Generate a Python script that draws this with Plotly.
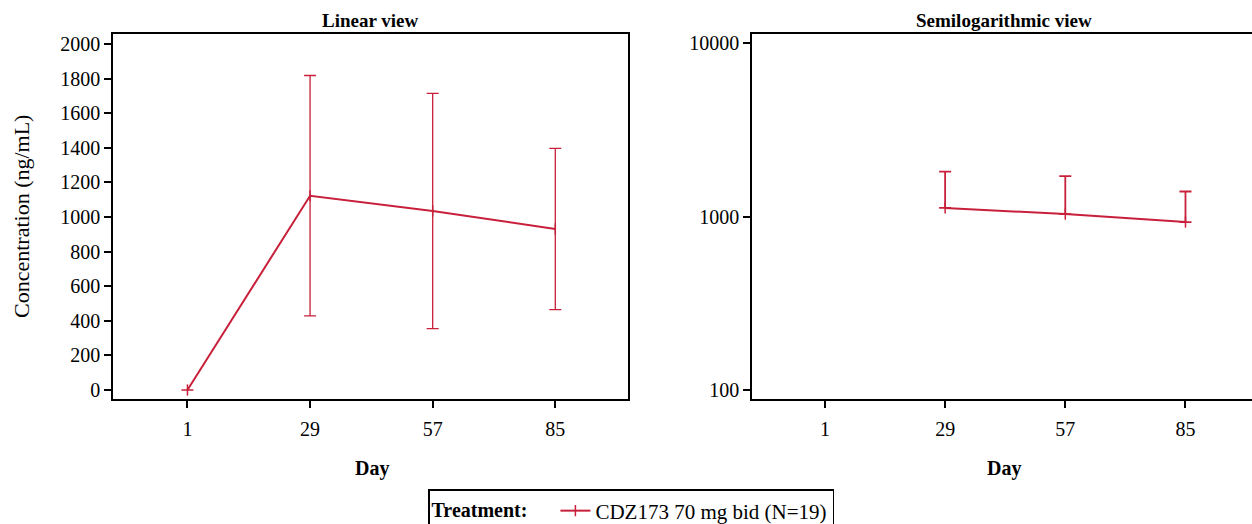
import plotly.graph_objects as go

days = [1, 29, 57, 85]
mean_conc = [0, 1123, 1035, 931]
sd_conc = [0, 695, 680, 466]
tick_days = [1, 29, 57, 85]
lin_ticks = [0, 200, 400, 600, 800, 1000, 1200, 1400, 1600, 1800, 2000]
log_ticks = [100, 1000, 10000]
log_tick_text = ["100", "1000", "10000"]
series_name = "CDZ173 70 mg bid (N=19)"

RED = "#c8203a"
FONT = "Liberation Serif"

fig = go.Figure()

# Linear view
fig.add_trace(go.Scatter(
    x=days, y=mean_conc, mode="lines+markers", name=series_name,
    line=dict(color=RED, width=2),
    marker=dict(symbol="line-ns-open", size=8, color=RED, line=dict(color=RED, width=1.5)),
    error_y=dict(type="data", array=sd_conc, symmetric=True, color=RED, thickness=1.3, width=6),
    xaxis="x", yaxis="y", showlegend=True,
))

# Semilog view (positive values only, upper bars)
pos = [i for i, m in enumerate(mean_conc) if m > 0]
fig.add_trace(go.Scatter(
    x=[days[i] for i in pos], y=[mean_conc[i] for i in pos], mode="lines+markers",
    name=series_name,
    line=dict(color=RED, width=2),
    marker=dict(symbol="line-ns-open", size=8, color=RED, line=dict(color=RED, width=1.5)),
    error_y=dict(type="data", array=[sd_conc[i] for i in pos], arrayminus=[0 for _ in pos],
                 symmetric=False, color=RED, thickness=1.8, width=6),
    xaxis="x2", yaxis="y2", showlegend=False,
))

axis_common = dict(
    showline=True, linecolor="black", linewidth=1.6, ticks="outside", ticklen=7,
    tickwidth=1.5, tickcolor="black", showgrid=False, zeroline=False,
    tickfont=dict(family=FONT, size=20, color="black"),
)

W, H = 1252, 524
PH = 365  # plot height in px (34..399)
fig.update_layout(
    width=W, height=H,
    margin=dict(l=0, r=0, t=34, b=125, autoexpand=False),
    paper_bgcolor="white", plot_bgcolor="white",
    font=dict(family=FONT, color="black"),
    xaxis=dict(domain=[113 / W, 628 / W], range=[-16, 101.6], tickvals=tick_days,
               mirror=True, anchor="y", ticklabelstandoff=4, **axis_common),
    yaxis=dict(range=[-52, 2058], tickvals=lin_ticks, mirror=True, anchor="x", **axis_common),
    xaxis2=dict(domain=[752 / W, 1.0], range=[-16, 100.5], tickvals=tick_days,
                mirror=True, anchor="y2", ticklabelstandoff=4, **axis_common),
    yaxis2=dict(type="log", range=[1.948, 4.054], tickvals=log_ticks, ticktext=log_tick_text,
                mirror=False, anchor="x2", **axis_common),
    legend=dict(
        orientation="h", x=0.504, xanchor="center", y=(H - 489) / H, yref="container",
        yanchor="top",
        bordercolor="black", borderwidth=1.5, bgcolor="white",
        font=dict(family=FONT, size=21, color="black"),
        title=dict(text="<b>Treatment:</b>&nbsp;&nbsp;&nbsp;&nbsp;",
                   font=dict(family=FONT, size=20, color="black")),
        tracegroupgap=0,
    ),
    annotations=[
        dict(text="<b>Linear view</b>", x=370 / W, y=1.0, xref="paper", yref="paper",
             xanchor="center", yanchor="bottom", yshift=1, showarrow=False,
             font=dict(family=FONT, size=19)),
        dict(text="<b>Semilogarithmic view</b>", x=1004 / W, y=1.0, xref="paper", yref="paper",
             xanchor="center", yanchor="bottom", yshift=1, showarrow=False,
             font=dict(family=FONT, size=19)),
        dict(text="Concentration (ng/mL)", x=21 / W, y=(399 - 217) / PH, xref="paper", yref="paper",
             textangle=-90, showarrow=False, xanchor="center", yanchor="middle",
             font=dict(family=FONT, size=22)),
        dict(text="<b>Day</b>", x=372 / W, y=-(468 - 399) / PH, xref="paper", yref="paper",
             xanchor="center", yanchor="middle", showarrow=False, font=dict(family=FONT, size=20)),
        dict(text="<b>Day</b>", x=1004 / W, y=-(468 - 399) / PH, xref="paper", yref="paper",
             xanchor="center", yanchor="middle", showarrow=False, font=dict(family=FONT, size=20)),
    ],
)

fig.write_html("out.html")
